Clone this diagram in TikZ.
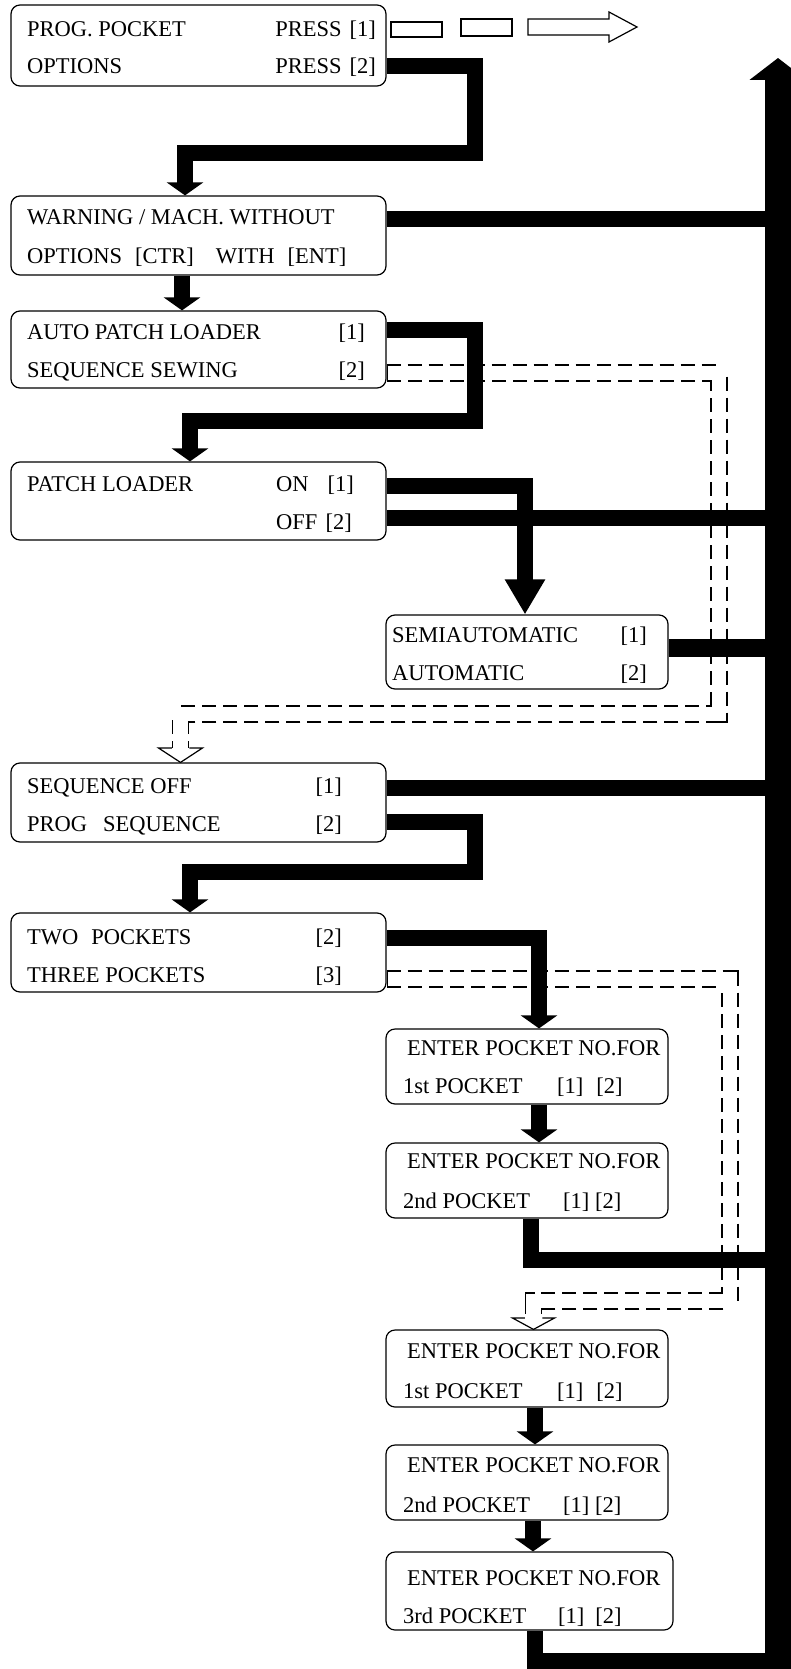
\documentclass[tikz,border=0pt]{standalone}
\usepackage{fontspec}
\setmainfont{Liberation Serif}
\usetikzlibrary{arrows.meta}
\tikzset{
	menubox/.style 2 args={draw,line width=1.2pt,rounded corners=9pt,inner sep=0pt,minimum width=#1pt,minimum height=#2pt},
	txt/.style={anchor=base west,inner sep=0pt},
	txtr/.style={anchor=base east,inner sep=0pt},
	feed/.style={line width=16pt,line join=miter},
	flow/.style={feed,-{Triangle[width=36pt,length=13pt]}},
	pipe/.style={line width=17.5pt,dash pattern=on 14pt off 7pt,line join=miter},
	pipecore/.style={line width=14.5pt,white,line join=miter,shorten <=1pt},
	pipehead/.style={line width=1.2pt,line join=miter}
}
\begin{document}
\begin{tikzpicture}[x=1pt,y=-1pt,font=\fontsize{22.5pt}{27pt}\selectfont]
				\useasboundingbox (0,0) rectangle (791,1669);
				\path
				(198.5,45.5)node[menubox={375}{81}](b1){}
				(27,37)node[txt](b1a){PROG. POCKET}
				(376,37)node[txtr](b1b){PRESS\hspace{8pt}[1]}
				(27,74)node[txt](b1c){OPTIONS}
				(376,74)node[txtr](b1d){PRESS\hspace{8pt}[2]}
				(198.5,235.5)node[menubox={375}{79}](b2){}
				(27,225)node[txt](b2a){WARNING / MACH. WITHOUT}
				(27,264)node[txt](b2b){OPTIONS\hspace{13pt}[CTR]\hspace{22pt}WITH\hspace{13pt}[ENT]}
				(198.5,349.5)node[menubox={375}{77}](b3){}
				(27,339)node[txt](b3a){AUTO PATCH LOADER}
				(365,339)node[txtr](b3b){[1]}
				(27,377)node[txt](b3c){SEQUENCE SEWING}
				(365,377)node[txtr](b3d){[2]}
				(198.5,501)node[menubox={375}{78}](b4){}
				(27,491)node[txt](b4a){PATCH LOADER}
				(276,491)node[txt](b4b){ON}
				(354,491)node[txtr](b4c){[1]}
				(276,529)node[txt](b4d){OFF}
				(352,529)node[txtr](b4e){[2]}
				(527,652)node[menubox={282}{74}](sa){}
				(392,642)node[txt](saa){SEMIAUTOMATIC}
				(647,642)node[txtr](sab){[1]}
				(392,680)node[txt](sac){AUTOMATIC}
				(647,680)node[txtr](sad){[2]}
				(198.5,802.5)node[menubox={375}{79}](b5){}
				(27,793)node[txt](b5a){SEQUENCE OFF}
				(342,793)node[txtr](b5b){[1]}
				(27,831)node[txt](b5c){PROG\hspace{16pt}SEQUENCE}
				(342,831)node[txtr](b5d){[2]}
				(198.5,952.5)node[menubox={375}{79}](b6){}
				(27,944)node[txt](b6a){TWO\hspace{13pt}POCKETS}
				(342,944)node[txtr](b6b){[2]}
				(27,982)node[txt](b6c){THREE POCKETS}
				(342,982)node[txtr](b6d){[3]}
				(527,1066.5)node[menubox={282}{75}](b7){}
				(407,1055)node[txt](b7a){ENTER POCKET NO.FOR}
				(403,1093)node[txt](b7b){1st POCKET}
				(557,1093)node[txt](b7c){[1]\hspace{13pt}[2]}
				(527,1180.5)node[menubox={282}{75}](b8){}
				(407,1168)node[txt](b8a){ENTER POCKET NO.FOR}
				(403,1208)node[txt](b8b){2nd POCKET}
				(563,1208)node[txt](b8c){[1] [2]}
				(527,1368.5)node[menubox={282}{77}](b9){}
				(407,1358)node[txt](b9a){ENTER POCKET NO.FOR}
				(403,1398)node[txt](b9b){1st POCKET}
				(557,1398)node[txt](b9c){[1]\hspace{13pt}[2]}
				(527,1482.5)node[menubox={282}{75}](b10){}
				(407,1472)node[txt](b10a){ENTER POCKET NO.FOR}
				(403,1512)node[txt](b10b){2nd POCKET}
				(563,1512)node[txt](b10c){[1] [2]}
				(529.5,1591)node[menubox={287}{78}](b11){}
				(407,1585)node[txt](b11a){ENTER POCKET NO.FOR}
				(403,1623)node[txt](b11b){3rd POCKET}
				(558,1623)node[txt](b11c){[1]\hspace{11pt}[2]}
				(475,66)coordinate(k1)
				(475,153)coordinate(k2)
				(185,153)coordinate(k3)
				(475,330)coordinate(k4)
				(475,421)coordinate(k5)
				(190,421)coordinate(k6)
				(525,486)coordinate(k7)
				(475,822)coordinate(k8)
				(475,872)coordinate(k9)
				(190,872)coordinate(k10)
				(539,938)coordinate(k11)
				(531,1260)coordinate(k12)
				(535,1661)coordinate(k13)
				(778,219)coordinate(j1)
				(778,518)coordinate(j2)
				(778,648)coordinate(j3)
				(778,788)coordinate(j4)
				(778,1260)coordinate(j5)
				(778,1661)coordinate(j6)
				(778,1669)coordinate(bb)
				(778,58)coordinate(bt)
				(719,373)coordinate(p1a)
				(719,714)coordinate(p1b)
				(180.5,714)coordinate(p1c)
				(180.5,748)coordinate(p1e)
				(730,979)coordinate(p2a)
				(730,1301)coordinate(p2b)
				(533.5,1301)coordinate(p2c)
				(533.5,1318)coordinate(p2e)
				;
				\draw[pipe](b3.east|-p1a)--(p1a)--(p1b)--(p1c)--(p1e);
				\draw[pipecore](b3.east|-p1a)--(p1a)--(p1b)--(p1c)--(p1e);
				\draw[pipehead]([xshift=-8.75pt]p1e)--([xshift=-22pt]p1e)--(p1e|-b5.north)--([xshift=22pt]p1e)--([xshift=8.75pt]p1e);
				\draw[pipe](b6.east|-p2a)--(p2a)--(p2b)--(p2c)--(p2e);
				\draw[pipecore](b6.east|-p2a)--(p2a)--(p2b)--(p2c)--(p2e);
				\draw[pipehead]([xshift=-8.75pt]p2e)--([xshift=-21pt]p2e)--(p2e|-b9.north)--([xshift=21pt]p2e)--([xshift=8.75pt]p2e);
				\draw[line width=1.2pt](391,22)rectangle(442,37);
				\draw[line width=1.2pt](461,19)rectangle(512,36);
				\draw[line width=1.2pt,line join=miter](528,19)--(609,19)--(609,12)--(637,27)--(609,42)--(609,35)--(528,35)--cycle;
				\draw[flow](b1.east|-k1)--(k1)--(k2)--(k3)--(k3|-b2.north);
				\draw[feed](b2.east|-j1)--(j1);
				\draw[flow]([xshift=-16.5pt]b2.south)--([xshift=-16.5pt]b3.north);
				\draw[flow](b3.east|-k4)--(k4)--(k5)--(k6)--(k6|-b4.north);
				\draw[feed,-{Triangle[width=38pt,length=35pt]}](b4.east|-k7)--(k7)--(k7|-sa.north);
				\draw[feed](b4.east|-j2)--(j2);
				\draw[feed,line width=18pt](sa.east|-j3)--(j3);
				\draw[feed](b5.east|-j4)--(j4);
				\draw[flow](b5.east|-k8)--(k8)--(k9)--(k10)--(k10|-b6.north);
				\draw[flow](b6.east|-k11)--(k11)--(k11|-b7.north);
				\draw[flow]([xshift=12pt]b7.south)--([xshift=12pt]b8.north);
				\draw[feed](b8.south-|k12)--(k12)--(j5);
				\draw[flow]([xshift=8pt]b9.south)--([xshift=8pt]b10.north);
				\draw[flow]([xshift=6pt]b10.south)--([xshift=3.5pt]b11.north);
				\draw[feed](b11.south-|k13)--(k13)--(j6);
				\draw[line width=26pt,-{Triangle[width=56pt,length=22pt]}](bb)--(bt);
			\end{tikzpicture}
\end{document}
